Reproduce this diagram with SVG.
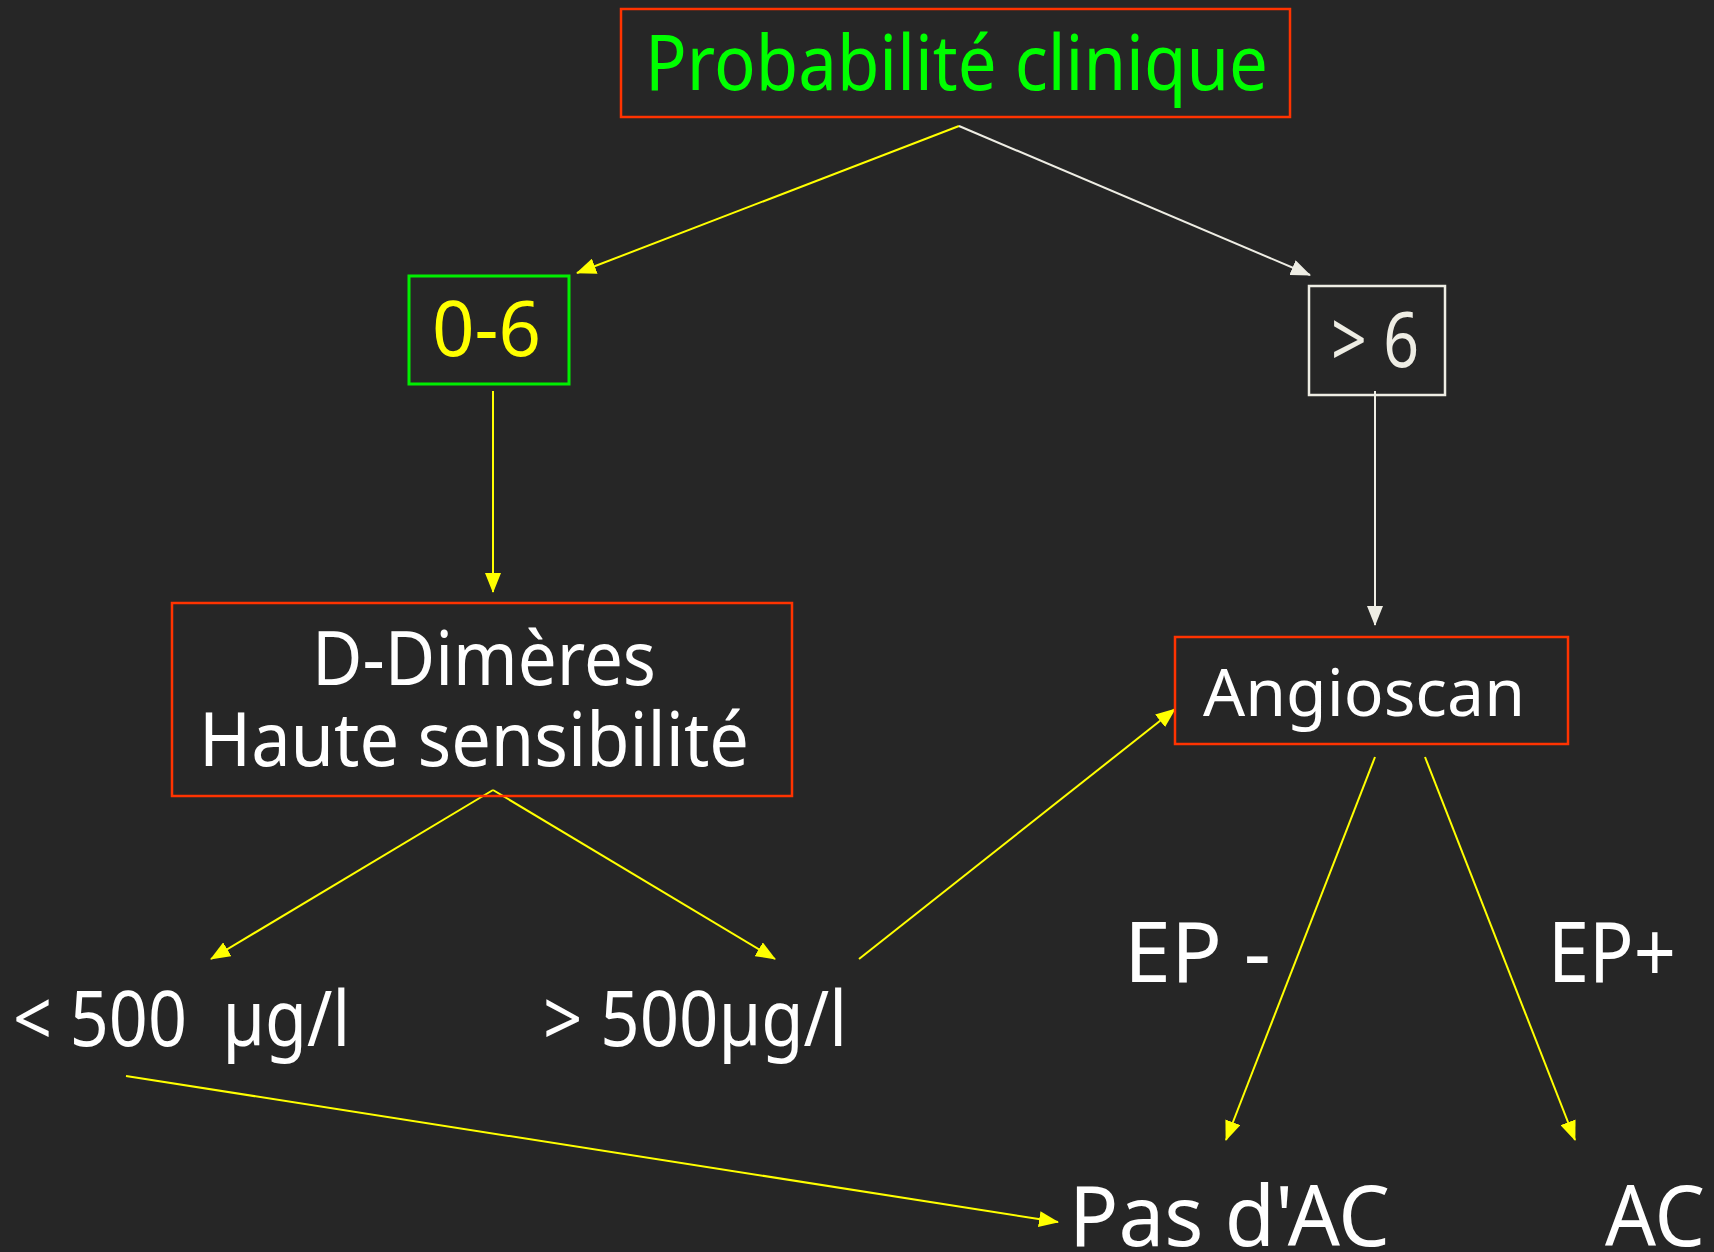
<svg xmlns="http://www.w3.org/2000/svg" width="1714" height="1252" viewBox="0 0 1714 1252">
<style>
.t{font-family:"Comic Sans MS","Noto Sans","DejaVu Sans",sans-serif;fill:#ffffff;white-space:pre}
.box{fill:none;stroke:#ff3300;stroke-width:2.5}
.y{stroke:#ffff00;stroke-width:2;fill:none}
.w{stroke:#eeede4;stroke-width:2;fill:none}
</style>
<defs>
<marker id="ay" markerUnits="userSpaceOnUse" markerWidth="20" markerHeight="16" refX="19" refY="8" orient="auto"><path d="M0,0 L20,8 L0,16 z" fill="#ffff00"/></marker>
<marker id="aw" markerUnits="userSpaceOnUse" markerWidth="20" markerHeight="16" refX="19" refY="8" orient="auto"><path d="M0,0 L20,8 L0,16 z" fill="#eeede4"/></marker>
</defs>
<rect width="1714" height="1252" fill="#262626"/>
<g id="connectors">
<line class="y" x1="959" y1="126" x2="577" y2="273" marker-end="url(#ay)" stroke-width="2.5"/>
<line class="w" x1="959" y1="126" x2="1310" y2="275" marker-end="url(#aw)" stroke-width="2.5"/>
<line class="y" x1="493" y1="391" x2="493" y2="592" marker-end="url(#ay)"/>
<line class="w" x1="1375" y1="391" x2="1375" y2="625" marker-end="url(#aw)"/>
<line class="y" x1="493" y1="790" x2="211" y2="959" marker-end="url(#ay)"/>
<line class="y" x1="493" y1="790" x2="775" y2="959" marker-end="url(#ay)"/>
<line class="y" x1="859" y1="959" x2="1175" y2="709" marker-end="url(#ay)"/>
<line class="y" x1="1375" y1="757" x2="1226" y2="1140" marker-end="url(#ay)"/>
<line class="y" x1="1425" y1="757" x2="1575" y2="1140" marker-end="url(#ay)"/>
<line class="y" x1="126" y1="1076" x2="1058" y2="1222" marker-end="url(#ay)"/>
</g>
<g id="n-proba">
<rect class="box" x="621" y="9" width="669" height="108"/>
<text class="t" x="645" y="90" font-size="76" textLength="623" lengthAdjust="spacingAndGlyphs" style="fill:#00ff00">Probabilité clinique</text>
</g>
<g id="n-06">
<rect x="409" y="276" width="160" height="108" fill="none" stroke="#00ee00" stroke-width="3"/>
<text class="t" x="432" y="356" font-size="76" textLength="109" lengthAdjust="spacingAndGlyphs" style="fill:#ffff00">0-6</text>
</g>
<g id="n-sup6">
<rect x="1309" y="286" width="136" height="109" fill="none" stroke="#eeede4" stroke-width="2.5"/>
<text class="t" x="1331" y="367" font-size="76" textLength="88" lengthAdjust="spacingAndGlyphs" style="fill:#eeede4">&gt; 6</text>
</g>
<g id="n-ddimeres">
<rect class="box" x="172" y="603" width="620" height="193"/>
<text class="t" x="312" y="685" font-size="74" textLength="344" lengthAdjust="spacingAndGlyphs">D-Dimères</text>
<text class="t" x="199" y="766" font-size="74" textLength="550" lengthAdjust="spacingAndGlyphs">Haute sensibilité</text>
</g>
<g id="n-angio">
<rect class="box" x="1175" y="637" width="393" height="107"/>
<text class="t" x="1203" y="716" font-size="66" textLength="322" lengthAdjust="spacingAndGlyphs">Angioscan</text>
</g>
<g id="n-inf500">
<text class="t" x="13" y="1046" font-size="76" textLength="337" lengthAdjust="spacingAndGlyphs">&lt; 500  µg/l</text>
</g>
<g id="n-sup500">
<text class="t" x="543" y="1046" font-size="76" textLength="304" lengthAdjust="spacingAndGlyphs">&gt; 500µg/l</text>
</g>
<g id="n-epm">
<text class="t" x="1124" y="982" font-size="84" textLength="147" lengthAdjust="spacingAndGlyphs">EP -</text>
</g>
<g id="n-epp">
<text class="t" x="1548" y="982" font-size="84" textLength="128" lengthAdjust="spacingAndGlyphs">EP+</text>
</g>
<g id="n-pasac">
<text class="t" x="1069" y="1246" font-size="84" textLength="321" lengthAdjust="spacingAndGlyphs">Pas d'AC</text>
</g>
<g id="n-ac">
<text class="t" x="1605" y="1246" font-size="84" textLength="100" lengthAdjust="spacingAndGlyphs">AC</text>
</g>
</svg>
